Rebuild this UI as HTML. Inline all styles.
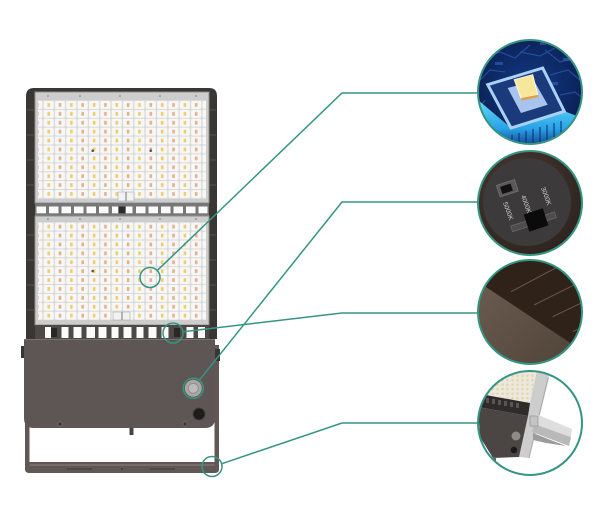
<!DOCTYPE html>
<html>
<head>
<meta charset="utf-8">
<style>
  html,body{margin:0;padding:0;background:#fff;}
  svg{display:block;}
  text{font-family:"Liberation Sans",sans-serif;}
</style>
</head>
<body>
<svg width="600" height="523" viewBox="0 0 600 523" xmlns="http://www.w3.org/2000/svg">
  <defs>
    <pattern id="ledU" patternUnits="userSpaceOnUse" x="43" y="100.5" width="22.7" height="8.9">
      <rect width="22.7" height="8.9" fill="#dadada"/>
      <rect x="0.6" y="0.5" width="10.1" height="7.9" rx="1.2" fill="#f7f7f5"/>
      <rect x="11.95" y="0.5" width="10.1" height="7.9" rx="1.2" fill="#f7f7f5"/>
      <rect x="4.4" y="2.6" width="2.6" height="3.7" fill="#efcd6c"/>
      <rect x="15.7" y="2.6" width="2.6" height="3.7" fill="#e7ae90"/>
    </pattern>
    <pattern id="ledL" patternUnits="userSpaceOnUse" x="43" y="222.2" width="22.7" height="8.9">
      <rect width="22.7" height="8.9" fill="#dadada"/>
      <rect x="0.6" y="0.5" width="10.1" height="7.9" rx="1.2" fill="#f7f7f5"/>
      <rect x="11.95" y="0.5" width="10.1" height="7.9" rx="1.2" fill="#f7f7f5"/>
      <rect x="4.4" y="2.6" width="2.6" height="3.7" fill="#efcd6c"/>
      <rect x="15.7" y="2.6" width="2.6" height="3.7" fill="#e7ae90"/>
    </pattern>
    <pattern id="ledS" patternUnits="userSpaceOnUse" width="5" height="4.5">
      <rect width="5" height="4.5" fill="#ece8dd"/>
      <rect x="1.5" y="1.2" width="2" height="2" fill="#e3d39a"/>
    </pattern>
    <clipPath id="c1"><circle cx="530" cy="92" r="52"/></clipPath>
    <clipPath id="c2"><circle cx="530" cy="203" r="52"/></clipPath>
    <clipPath id="c3"><circle cx="530" cy="312" r="52"/></clipPath>
    <clipPath id="c4"><circle cx="530" cy="423" r="52"/></clipPath>
    <radialGradient id="navy" cx="0.5" cy="0.45" r="0.6">
      <stop offset="0" stop-color="#123a86"/>
      <stop offset="1" stop-color="#0a1a48"/>
    </radialGradient>
    <linearGradient id="cyan" x1="0" y1="0" x2="0" y2="1">
      <stop offset="0" stop-color="#6ae4ff"/>
      <stop offset="0.6" stop-color="#2aa8ee"/>
      <stop offset="1" stop-color="#0f3a8a"/>
    </linearGradient>
    <linearGradient id="brownL" x1="0" y1="0" x2="1" y2="1">
      <stop offset="0" stop-color="#6f6053"/>
      <stop offset="1" stop-color="#4c4035"/>
    </linearGradient>
    <radialGradient id="ring2" cx="0.4" cy="0.35" r="0.7">
      <stop offset="0" stop-color="#4a3a31"/>
      <stop offset="1" stop-color="#2a201c"/>
    </radialGradient>
  </defs>

  <!-- ================= LAMP ================= -->
  <path d="M26,96 Q26,88 34,88 H209 Q217,88 217,96 V339 H26 Z" fill="#3a3634"/>
  <g stroke="#575250" stroke-width="1">
    <line x1="27" y1="110" x2="34" y2="110"/><line x1="27" y1="135" x2="34" y2="135"/>
    <line x1="27" y1="160" x2="34" y2="160"/><line x1="27" y1="185" x2="34" y2="185"/>
    <line x1="27" y1="235" x2="34" y2="235"/><line x1="27" y1="260" x2="34" y2="260"/>
    <line x1="27" y1="285" x2="34" y2="285"/><line x1="27" y1="310" x2="34" y2="310"/>
    <line x1="209" y1="110" x2="216" y2="110"/><line x1="209" y1="135" x2="216" y2="135"/>
    <line x1="209" y1="160" x2="216" y2="160"/><line x1="209" y1="185" x2="216" y2="185"/>
    <line x1="209" y1="235" x2="216" y2="235"/><line x1="209" y1="260" x2="216" y2="260"/>
    <line x1="209" y1="285" x2="216" y2="285"/><line x1="209" y1="310" x2="216" y2="310"/>
  </g>

  <!-- upper panel -->
  <rect x="35" y="92" width="174" height="111" fill="#cdcdcd" stroke="#8e8e8e" stroke-width="1"/>
  <rect x="38" y="100" width="168" height="99" fill="url(#ledU)"/>
  <g fill="#9a9a9a">
    <circle cx="48" cy="96" r="1"/><circle cx="80" cy="96" r="1"/><circle cx="120" cy="96" r="1"/>
    <circle cx="160" cy="96" r="1"/><circle cx="196" cy="96" r="1"/>
  </g>
  <circle cx="92.7" cy="150.7" r="1.3" fill="#555"/>
  <circle cx="150.7" cy="150.7" r="1.3" fill="#555"/>
  <rect x="118" y="192" width="16" height="9" fill="#f2f2f2" stroke="#aaa" stroke-width="0.6"/>
  <line x1="126" y1="192" x2="126" y2="201" stroke="#777" stroke-width="1"/>

  <!-- middle separator strip -->
  <rect x="35" y="203" width="174" height="13" fill="#777"/>
  <g fill="#fbfbfb">
    <rect x="36.5" y="206.5" width="9.5" height="6.8"/><rect x="49" y="206.5" width="9.5" height="6.8"/>
    <rect x="61.5" y="206.5" width="9.5" height="6.8"/><rect x="74" y="206.5" width="9.5" height="6.8"/>
    <rect x="86.5" y="206.5" width="9.5" height="6.8"/><rect x="99" y="206.5" width="9.5" height="6.8"/>
    <rect x="112" y="206.5" width="6" height="6.8"/><rect x="126" y="206.5" width="6.5" height="6.8"/>
    <rect x="136" y="206.5" width="9.5" height="6.8"/><rect x="148.5" y="206.5" width="9.5" height="6.8"/>
    <rect x="161" y="206.5" width="9.5" height="6.8"/><rect x="173.5" y="206.5" width="9.5" height="6.8"/>
    <rect x="186" y="206.5" width="9.5" height="6.8"/><rect x="198.5" y="206.5" width="9" height="6.8"/>
  </g>
  <rect x="119" y="206.5" width="6" height="6.8" fill="#2c2a2a"/>

  <!-- lower panel -->
  <rect x="35" y="216" width="174" height="109" fill="#cdcdcd" stroke="#8e8e8e" stroke-width="1"/>
  <rect x="38" y="222" width="168" height="98" fill="url(#ledL)"/>
  <g fill="#9a9a9a">
    <circle cx="48" cy="219" r="1"/><circle cx="80" cy="219" r="1"/><circle cx="120" cy="219" r="1"/>
    <circle cx="160" cy="219" r="1"/><circle cx="196" cy="219" r="1"/>
  </g>
  <circle cx="92.7" cy="271" r="1.3" fill="#555"/>
  <rect x="113" y="312" width="17" height="8" fill="#f2f2f2" stroke="#aaa" stroke-width="0.6"/>
  <line x1="122" y1="312" x2="122" y2="320" stroke="#777" stroke-width="1"/>

  <!-- lower vent strip -->
  <rect x="35" y="325" width="174" height="14" fill="#4d4947"/>
  <g fill="#fbfbfb">
    <rect x="45" y="327" width="6" height="11"/><rect x="61.5" y="327" width="7" height="11"/>
    <rect x="73.5" y="327" width="8" height="11"/><rect x="86.5" y="327" width="8.5" height="11"/>
    <rect x="98.5" y="327" width="8" height="11"/><rect x="111.5" y="327" width="7" height="11"/>
    <rect x="123.5" y="327" width="8" height="11"/><rect x="136.5" y="327" width="7" height="11"/>
    <rect x="148.5" y="327" width="8" height="11"/><rect x="161.5" y="327" width="7" height="11"/>
    <rect x="186.5" y="327" width="7" height="11"/><rect x="198" y="327" width="7" height="11"/>
  </g>
  <rect x="51" y="328" width="6" height="9" fill="#2a2726"/>
  <rect x="174" y="328" width="6" height="9" fill="#2a2726"/>

  <!-- bracket -->
  <rect x="25" y="345" width="4.5" height="125" fill="#615856"/>
  <rect x="214.5" y="345" width="4.5" height="125" fill="#615856"/>
  <path d="M25,462 H219 V469 Q219,473 215,473 H29 Q25,473 25,469 Z" fill="#615856"/>
  <line x1="29.5" y1="465" x2="214.5" y2="465" stroke="#8a817f" stroke-width="1"/>
  <line x1="67" y1="469" x2="92" y2="469" stroke="#3e3836" stroke-width="1"/>
  <line x1="150" y1="469" x2="175" y2="469" stroke="#3e3836" stroke-width="1"/>
  <circle cx="122" cy="469" r="1" fill="#3e3836"/>

  <rect x="21" y="346" width="4" height="12" fill="#3a3432"/>
  <rect x="215" y="349" width="5" height="12" fill="#3a3432"/>

  <!-- driver box -->
  <path d="M24,339 H215 V418 Q215,428 205,428 H34 Q24,428 24,418 Z" fill="#5e5654"/>
  <line x1="24" y1="339.5" x2="215" y2="339.5" stroke="#7a716f" stroke-width="1"/>
  <circle cx="60" cy="424" r="2.2" fill="#3e3836" stroke="#8a8280" stroke-width="0.6"/>
  <circle cx="185" cy="424" r="2.2" fill="#3e3836" stroke="#8a8280" stroke-width="0.6"/>
  <rect x="129.5" y="428" width="4" height="7" fill="#4a4240"/>
  <circle cx="193.3" cy="388.3" r="8.5" fill="#a9a7a5"/>
  <circle cx="193.3" cy="388.3" r="5" fill="#bdbbb9" stroke="#8c8a88" stroke-width="0.8"/>
  <circle cx="199" cy="414" r="6" fill="#1e1c1c" stroke="#463f3d" stroke-width="1"/>

  <!-- ================= CONNECTORS ================= -->
  <g fill="none" stroke="#359582" stroke-width="1.5">
    <polyline points="478,93 342,93 157.2,270.6"/>
    <circle cx="150" cy="277.5" r="10"/>
    <polyline points="478,202 342,202 199.3,380.2"/>
    <circle cx="193.3" cy="388.3" r="10"/>
    <polyline points="478,313 342,313 182.9,331.8"/>
    <circle cx="173" cy="333" r="10"/>
    <polyline points="478,423 342,423 221.5,463.8"/>
    <circle cx="212" cy="466.5" r="10"/>
  </g>

  <!-- ================= CIRCLE 1: chip ================= -->
  <g clip-path="url(#c1)">
    <rect x="470" y="35" width="120" height="115" fill="url(#navy)"/>
    <g fill="none" stroke="#2a55a8" stroke-width="1.2" opacity="0.8">
      <polyline points="482,60 500,52 515,58 530,45"/>
      <polyline points="545,50 560,62 575,58"/>
      <polyline points="550,75 568,70 580,80"/>
      <polyline points="480,80 490,70 505,72"/>
      <polyline points="560,95 575,92 585,100"/>
      <polyline points="485,100 478,110"/>
      <polyline points="520,52 540,56 555,48"/>
    </g>
    <g fill="#2f5db5" opacity="0.7">
      <rect x="548" y="82" width="10" height="3"/><rect x="495" y="62" width="8" height="3"/>
      <rect x="563" y="58" width="8" height="3"/><rect x="540" y="42" width="6" height="3"/>
    </g>
    <polygon points="478,100 511,128 564,111 582,118 582,140 512,148 476,136" fill="url(#cyan)" opacity="0.95"/>
    <g stroke="#0d2a66" stroke-width="1">
      <line x1="505" y1="137" x2="505" y2="146"/><line x1="512" y1="135" x2="512" y2="146"/>
      <line x1="519" y1="133" x2="519" y2="146"/><line x1="526" y1="131" x2="526" y2="146"/>
      <line x1="533" y1="129" x2="533" y2="146"/><line x1="540" y1="127" x2="540" y2="146"/>
      <line x1="547" y1="125" x2="547" y2="146"/><line x1="554" y1="123" x2="554" y2="146"/>
      <line x1="561" y1="121" x2="561" y2="146"/>
    </g>
    <polygon points="487.7,84.7 542.7,68 564.3,111.3 511,128" fill="#1a3a7c" stroke="#a9d2f4" stroke-width="3"/>
    <polygon points="507.7,88 534.3,81.3 547.7,104.7 521,113" fill="#a9c4ec"/>
    <polygon points="514.3,79.7 532.7,74.7 537.7,94.7 521,98" fill="#f6e79c" stroke="#fffbe0" stroke-width="1"/>
    <polygon points="521,98 537.7,94.7 538.5,97 522,100.5" fill="#e0a040"/>
  </g>
  <circle cx="530" cy="92" r="52" fill="none" stroke="#359582" stroke-width="2"/>

  <!-- ================= CIRCLE 2: switch ================= -->
  <g clip-path="url(#c2)">
    <rect x="470" y="145" width="120" height="120" fill="url(#ring2)"/>
    <circle cx="527" cy="202" r="44" fill="#3c3a3a"/>
    <g transform="rotate(-18 527 205)">
      <rect x="504" y="177" width="19" height="12" fill="#5a5858" stroke="#6e6c6c" stroke-width="1"/>
      <rect x="507" y="179.5" width="11" height="7.5" fill="#121111"/>
      <rect x="505" y="220" width="46" height="6" fill="#4e4c4c" stroke="#686666" stroke-width="0.8"/>
      <rect x="521" y="213" width="20" height="18" fill="#0c0b0b"/>
    </g>
    <text transform="translate(503,203) rotate(70)" font-size="6.5" fill="#cfcfcf">5000K</text>
    <text transform="translate(521,196) rotate(70)" font-size="6.5" fill="#cfcfcf">4000K</text>
    <text transform="translate(541,188) rotate(70)" font-size="6.5" fill="#cfcfcf">3000K</text>
  </g>
  <circle cx="530" cy="203" r="52" fill="none" stroke="#359582" stroke-width="2"/>

  <!-- ================= CIRCLE 3: texture ================= -->
  <g clip-path="url(#c3)">
    <rect x="470" y="255" width="120" height="120" fill="url(#brownL)"/>
    <polygon points="470,250 600,250 600,360 575,346 483,285 470,278" fill="#2e2219"/>
    <g stroke="#6a5646" stroke-width="1">
      <line x1="511" y1="291.7" x2="565" y2="263"/>
      <line x1="534" y1="305" x2="592" y2="276"/>
      <line x1="552.7" y1="316.7" x2="594" y2="296.7"/>
      <line x1="572.7" y1="331.7" x2="594" y2="321.7"/>
    </g>
  </g>
  <circle cx="530" cy="312" r="52" fill="none" stroke="#359582" stroke-width="2"/>

  <!-- ================= CIRCLE 4: angled lamp ================= -->
  <g clip-path="url(#c4)">
    <rect x="470" y="365" width="120" height="120" fill="#ffffff"/>
    <polygon points="490,366 540,366 530,403 484,395" fill="url(#ledS)"/>
    <polygon points="538,366 548,366 549,378 529,458 519,457 530,403" fill="#cdcdcd"/>
    <line x1="548" y1="378" x2="529" y2="458" stroke="#a8a8a8" stroke-width="1"/>
    <polygon points="480,394 530,403 528,416 478,407" fill="#2e2b2a"/>
    <g fill="#5a5553">
      <rect x="486" y="398" width="3" height="5"/><rect x="492" y="399" width="3" height="5"/>
      <rect x="498" y="400" width="3" height="5"/><rect x="504" y="401" width="3" height="5"/>
      <rect x="510" y="402" width="3" height="5"/><rect x="516" y="403" width="3" height="5"/>
    </g>
    <polygon points="478,407 528,416 519,457 493,458 480,437" fill="#4b4543"/>
    <circle cx="516" cy="436" r="4.5" fill="#8d8a88"/>
    <circle cx="514" cy="450" r="3.3" fill="#1c1a1a"/>
    <polygon points="536,414 572,429 571,437 534,424" fill="#dedede"/>
    <polygon points="534,424 571,437 569,446 532,432" fill="#b9b9b9"/>
    <polygon points="533,433 566,446 546,443 533,440" fill="#9c9c9c"/>
    <rect x="530" y="416" width="8" height="10" fill="#c4c4c4" stroke="#8a8a8a" stroke-width="0.6"/>
    <rect x="493" y="457" width="3" height="6" fill="#6a6462"/>
  </g>
  <circle cx="530" cy="423" r="52" fill="none" stroke="#359582" stroke-width="2"/>
</svg>
</body>
</html>
